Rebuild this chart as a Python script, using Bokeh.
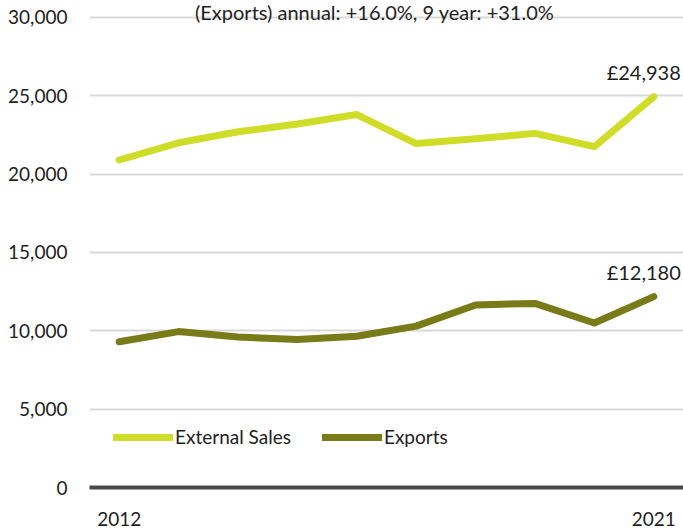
from bokeh.plotting import figure
from bokeh.models import (FixedTicker, NumeralTickFormatter, Range1d, Legend,
                          LegendItem, Label, ColumnDataSource)
from bokeh.core.properties import value
from bokeh.embed import file_html
from bokeh.resources import INLINE

years = [2012, 2013, 2014, 2015, 2016, 2017, 2018, 2019, 2020, 2021]
external_sales = [20900, 22000, 22700, 23200, 23800, 21950, 22250, 22600, 21750, 24938]
exports = [9300, 9950, 9600, 9450, 9650, 10300, 11650, 11750, 10500, 12180]
y_ticks = [0, 5000, 10000, 15000, 20000, 25000, 30000]
x_ticks = [2012, 2021]
title_text = "(Exports) annual: +16.0%, 9 year: +31.0%"
end_labels = ["£24,938", "£12,180"]

FONT = "Lato"
FS = "19px"
TXT = "#1e1e1e"
C_EXT = "#d0dd28"
C_EXP = "#787b18"

p = figure(width=683, height=528, output_backend="svg", toolbar_location=None,
           x_range=Range1d(2011.5, 2021.5), y_range=Range1d(0, 31080),
           min_border_left=89, min_border_right=0, min_border_top=0,
           min_border_bottom=39)
p.outline_line_color = None
p.background_fill_color = "white"
p.border_fill_color = "white"

# grid
p.xgrid.grid_line_color = None
p.ygrid.ticker = FixedTicker(ticks=y_ticks[1:])
p.ygrid.grid_line_color = "#d9d9d9"
p.ygrid.grid_line_width = 2

# axes
p.yaxis.ticker = FixedTicker(ticks=y_ticks)
p.yaxis.formatter = NumeralTickFormatter(format="0,0")
p.yaxis.axis_line_color = None
p.yaxis.major_tick_line_color = None
p.yaxis.minor_tick_line_color = None
p.yaxis.major_label_standoff = 16
p.yaxis.major_label_text_font = FONT
p.yaxis.major_label_text_font_size = FS
p.yaxis.major_label_text_color = TXT

p.xaxis.ticker = FixedTicker(ticks=x_ticks)
p.xaxis.axis_line_color = "#4a4a4a"
p.xaxis.axis_line_width = 4
p.xaxis.major_tick_line_color = None
p.xaxis.minor_tick_line_color = None
p.xaxis.major_label_standoff = 18
p.xaxis.major_label_text_font = FONT
p.xaxis.major_label_text_font_size = FS
p.xaxis.major_label_text_color = TXT

r1 = p.line(years, external_sales, line_color=C_EXT, line_width=7,
            line_cap="round", line_join="round")
r2 = p.line(years, exports, line_color=C_EXP, line_width=7,
            line_cap="round", line_join="round")

# end labels
src = ColumnDataSource(dict(x=[years[-1], years[-1]],
                            y=[external_sales[-1], exports[-1]],
                            t=end_labels))
p.text(x="x", y="y", text="t", source=src, text_align="right",
       text_baseline="middle", x_offset=27, y_offset=-25,
       text_font=value(FONT), text_font_size="20px", text_color=TXT)

# title line
p.add_layout(Label(x=2016.3, y=30000, text=title_text, text_align="center",
                   text_baseline="alphabetic", text_font=FONT,
                   text_font_size="20px", text_color=TXT, y_offset=5))

legend = Legend(items=[LegendItem(label="External Sales", renderers=[r1]),
                       LegendItem(label="Exports", renderers=[r2])],
                orientation="horizontal", location=(24, 39),
                glyph_width=60, glyph_height=20, label_standoff=2,
                spacing=31, padding=0, margin=0,
                border_line_color=None, background_fill_alpha=0,
                label_text_font=FONT, label_text_font_size=FS,
                label_text_color=TXT)
p.add_layout(legend, "center")

open("out.html", "w").write(file_html(p, INLINE))
